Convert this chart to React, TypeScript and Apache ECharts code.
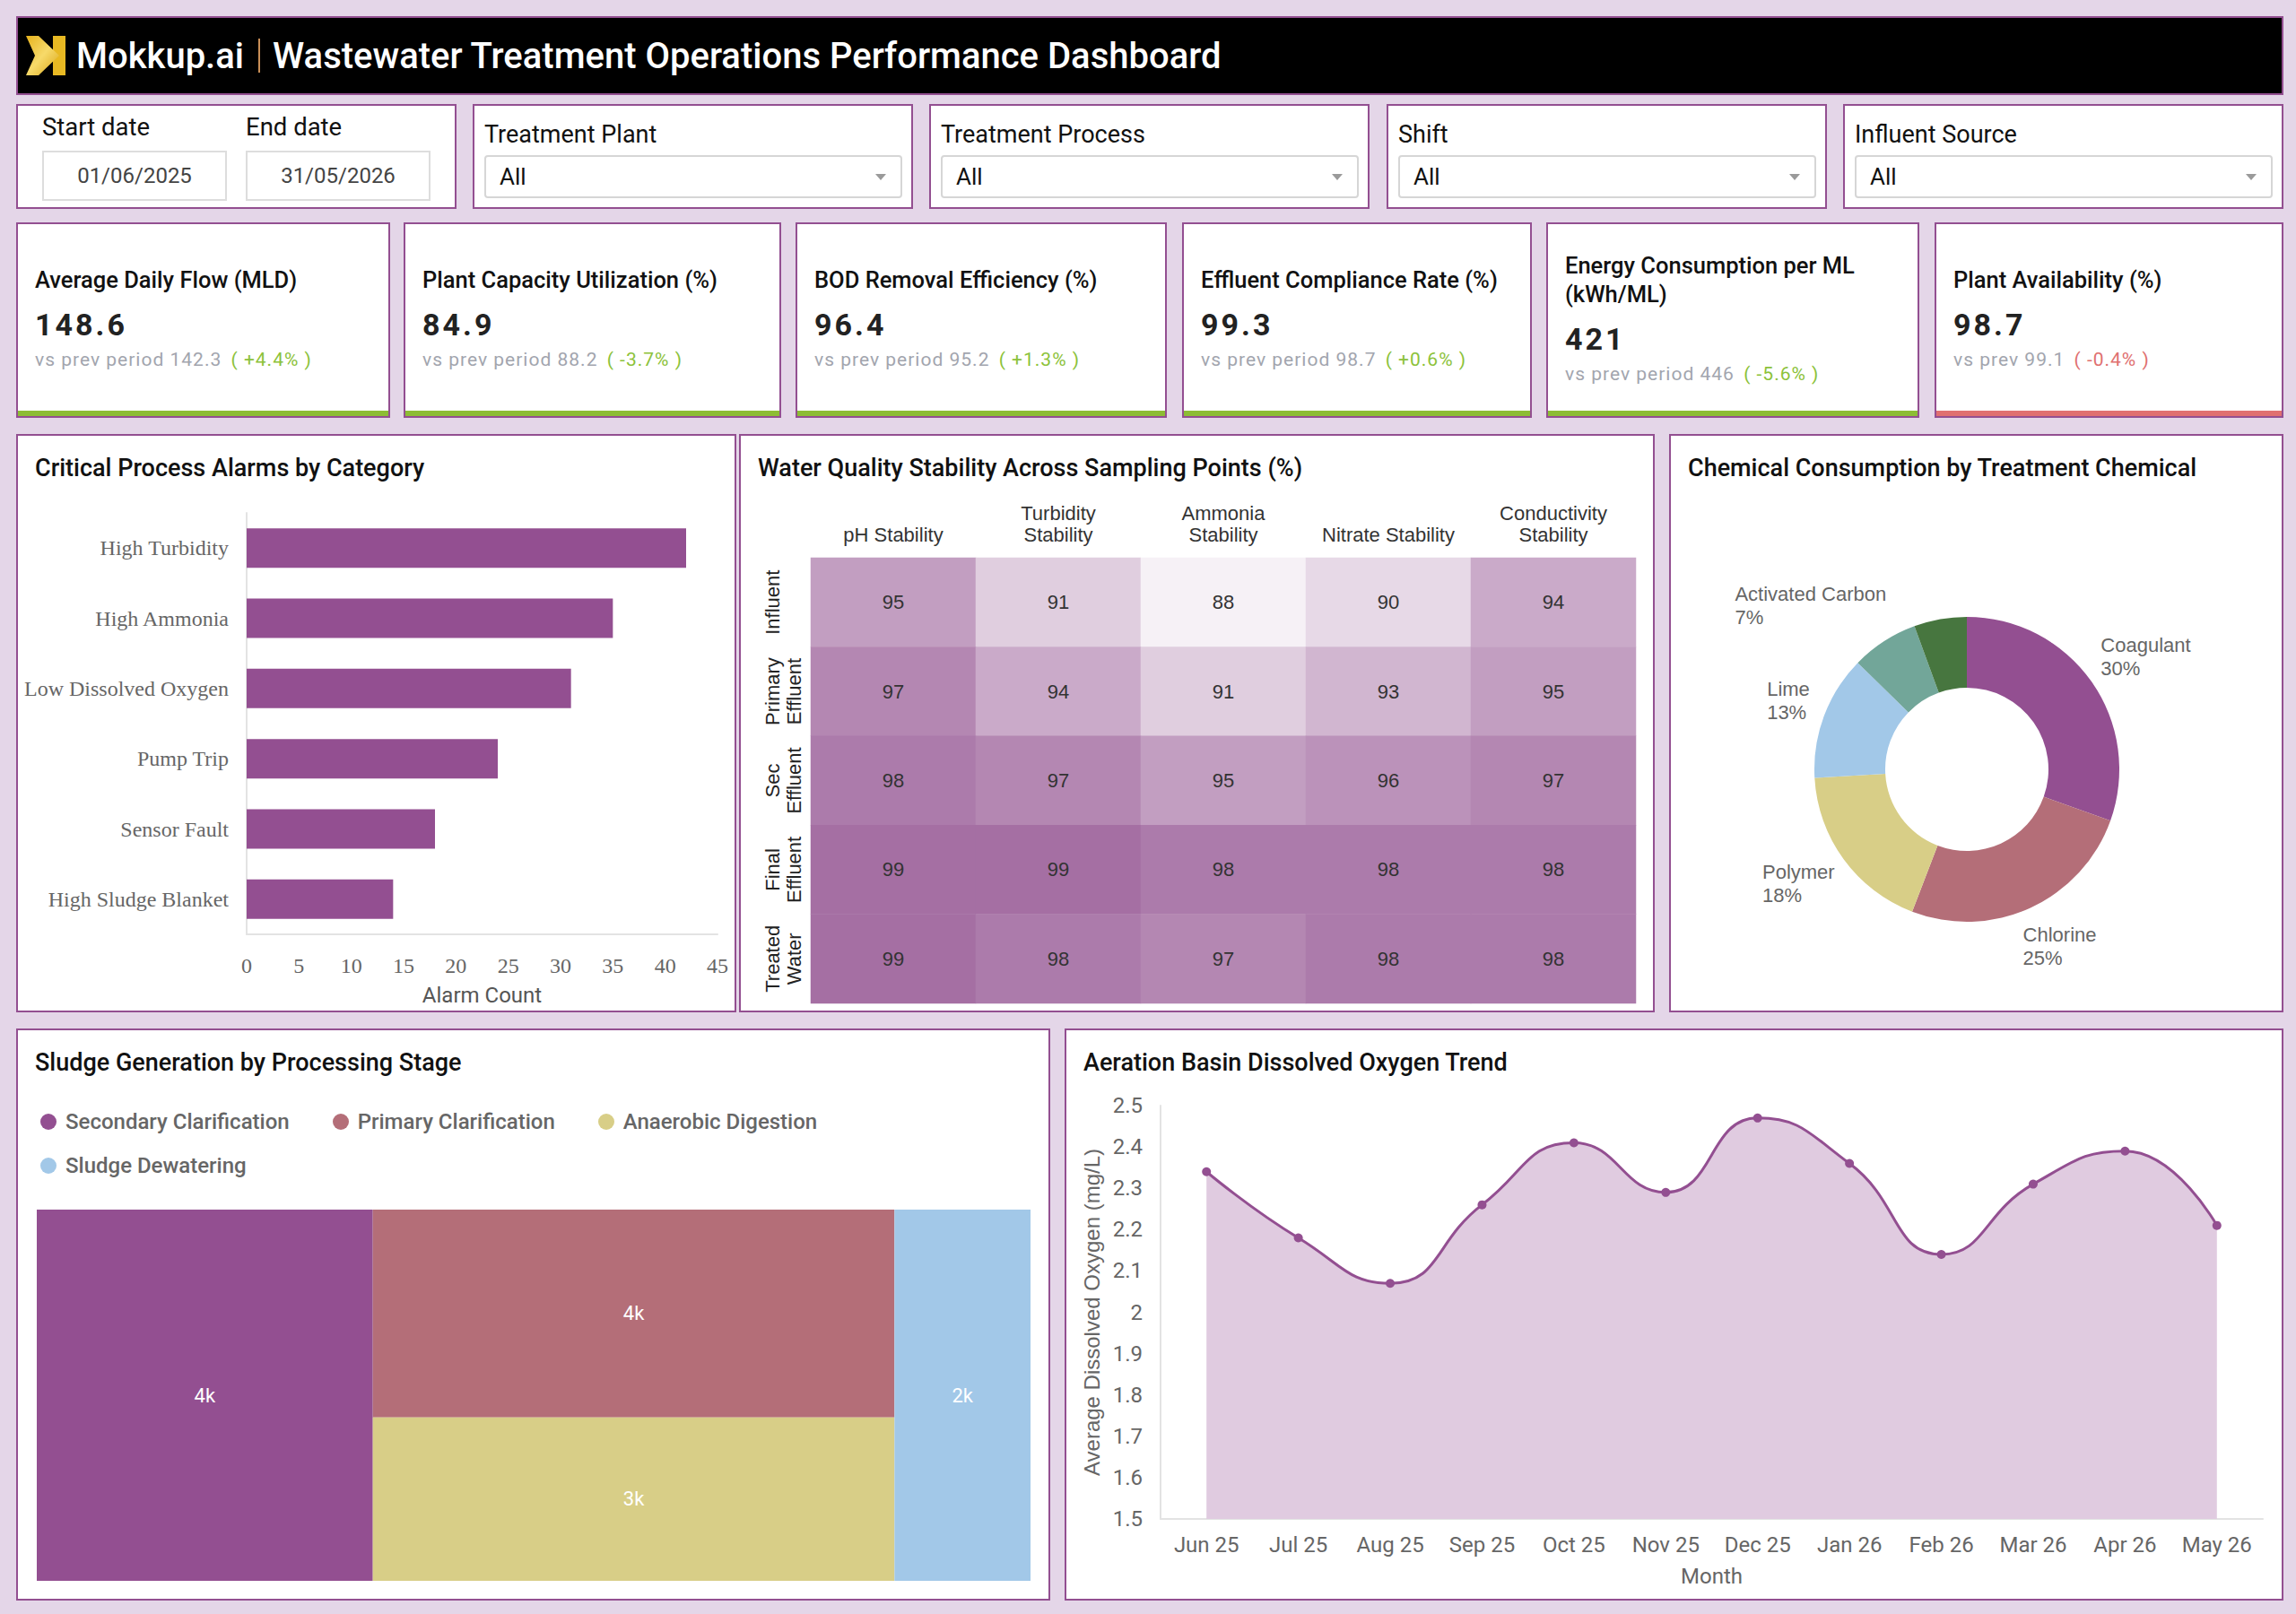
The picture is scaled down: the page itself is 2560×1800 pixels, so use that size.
import React, { useEffect, useRef } from "react";
import * as echarts from "echarts";

// ---------- DATA ----------
const brandName = "Mokkup.ai";
const dashboardTitle = "Wastewater Treatment Operations Performance Dashboard";

const startDateLabel = "Start date";
const endDateLabel = "End date";
const startDate = "01/06/2025";
const endDate = "31/05/2026";
const filterLabels = ["Treatment Plant", "Treatment Process", "Shift", "Influent Source"];
const filterValues = ["All", "All", "All", "All"];

const kpiTitles = [
  "Average Daily Flow (MLD)",
  "Plant Capacity Utilization (%)",
  "BOD Removal Efficiency (%)",
  "Effluent Compliance Rate (%)",
  "Energy Consumption per ML (kWh/ML)",
  "Plant Availability (%)",
];
const kpiValues = ["148.6", "84.9", "96.4", "99.3", "421", "98.7"];
const kpiPrevLabels = ["vs prev period", "vs prev period", "vs prev period", "vs prev period", "vs prev period", "vs prev"];
const kpiPrevValues = ["142.3", "88.2", "95.2", "98.7", "446", "99.1"];
const kpiDeltas = ["+4.4%", "-3.7%", "+1.3%", "+0.6%", "-5.6%", "-0.4%"];
const kpiFavourable = [true, true, true, true, true, false];

const alarmCategories = ["High Turbidity", "High Ammonia", "Low Dissolved Oxygen", "Pump Trip", "Sensor Fault", "High Sludge Blanket"];
const alarmCounts = [42, 35, 31, 24, 18, 14];

const qualityParams = ["pH Stability", "Turbidity\nStability", "Ammonia\nStability", "Nitrate Stability", "Conductivity\nStability"];
const samplingPoints = ["Influent", "Primary\nEffluent", "Sec\nEffluent", "Final\nEffluent", "Treated\nWater"];
const influentStability = [95, 91, 88, 90, 94];
const primaryEffluentStability = [97, 94, 91, 93, 95];
const secEffluentStability = [98, 97, 95, 96, 97];
const finalEffluentStability = [99, 99, 98, 98, 98];
const treatedWaterStability = [99, 98, 97, 98, 98];

const chemicalNames = ["Coagulant", "Chlorine", "Polymer", "Lime", "Activated Carbon", "Ozone"];
const chemicalShares = [30, 25, 18, 13, 7, 5.5];

const sludgeStages = ["Secondary Clarification", "Primary Clarification", "Anaerobic Digestion", "Sludge Dewatering"];
const sludgeVolumes = [4200, 3650, 2870, 1700];

const months = ["Jun 25", "Jul 25", "Aug 25", "Sep 25", "Oct 25", "Nov 25", "Dec 25", "Jan 26", "Feb 26", "Mar 26", "Apr 26", "May 26"];
const avgDissolvedOxygen = [2.34, 2.18, 2.07, 2.26, 2.41, 2.29, 2.47, 2.36, 2.14, 2.31, 2.39, 2.21];

// ---------- STYLE ----------
const PURPLE = "#934F91";
const BG = "#E4D6E8";
const GREEN = "#8DBD34";
const GREEN_TEXT = "#8CC23A";
const RED = "#E07070";
const chemicalColors = ["#934F91", "#B46E78", "#D8CE87", "#A2C8E8", "#72A699", "#47763F"];
const sludgeColors = ["#934F91", "#B46E78", "#D8CE87", "#A2C8E8"];
const SANS = "Liberation Sans";
const SERIF = "Liberation Serif";

function EChart({ option, width, height }: { option: any; width: number; height: number }) {
  const ref = useRef<HTMLDivElement>(null);
  useEffect(() => {
    const chart = echarts.init(ref.current as HTMLDivElement, undefined, { renderer: "svg" });
    chart.setOption(option);
    return () => chart.dispose();
  }, []);
  return <div ref={ref} style={{ position: "absolute", left: 0, top: 0, width, height }} />;
}

function Box({ left, top, width, height, children, bg = "#fff" }: any) {
  return (
    <div
      style={{
        position: "absolute",
        left,
        top,
        width,
        height,
        boxSizing: "border-box",
        border: `2px solid ${PURPLE}`,
        background: bg,
        overflow: "hidden",
      }}
    >
      {children}
    </div>
  );
}

function PanelTitle({ text }: { text: string }) {
  return (
    <div
      style={{
        position: "absolute",
        left: 19,
        top: 20,
        fontSize: 27,
        lineHeight: "32px",
        fontWeight: 500,
        color: "#111",
        zIndex: 2,
        whiteSpace: "nowrap",
      }}
    >
      {text}
    </div>
  );
}

function Logo() {
  return (
    <svg width="44" height="44" viewBox="0 0 44 44">
      <defs>
        <linearGradient id="gold" x1="0" y1="0" x2="1" y2="1">
          <stop offset="0" stopColor="#E6B21C" />
          <stop offset="0.5" stopColor="#F7DA6A" />
          <stop offset="1" stopColor="#D9A514" />
        </linearGradient>
      </defs>
      <rect x="30" y="0" width="14" height="44" fill="#E8B923" />
      <polygon points="0,0 14,0 37,22 14,44 0,44 10,22" fill="url(#gold)" />
    </svg>
  );
}

const kpiBoxes = [
  [18, 417],
  [450, 421],
  [887, 414],
  [1318, 390],
  [1724, 416],
  [2157, 389],
];
const filterLefts = [527, 1036, 1546, 2055];

export default function App() {
  const alarmOption = {
    animation: false,
    grid: { left: 255, right: 19, top: 86, bottom: 85 },
    xAxis: {
      type: "value",
      min: 0,
      max: 45,
      interval: 5,
      name: "Alarm Count",
      nameLocation: "middle",
      nameGap: 56,
      nameTextStyle: { fontFamily: "Roboto", fontSize: 24, color: "#555" },
      axisLine: { show: true, lineStyle: { color: "#E3E3E3", width: 2 } },
      axisTick: { show: false },
      splitLine: { show: false },
      axisLabel: { fontFamily: SERIF, fontSize: 24, color: "#666", margin: 23 },
    },
    yAxis: {
      type: "category",
      data: alarmCategories,
      inverse: true,
      axisLine: { show: true, lineStyle: { color: "#E3E3E3", width: 2 } },
      axisTick: { show: false },
      axisLabel: { fontFamily: SERIF, fontSize: 24, color: "#666", margin: 20 },
    },
    series: [{ type: "bar", data: alarmCounts, barWidth: 44, itemStyle: { color: PURPLE } }],
  };

  const stabilityRows = [
    influentStability,
    primaryEffluentStability,
    secEffluentStability,
    finalEffluentStability,
    treatedWaterStability,
  ];
  const heatData: number[][] = [];
  stabilityRows.forEach((row, y) => row.forEach((v, x) => heatData.push([x, y, v])));
  const heatOption = {
    animation: false,
    grid: { left: 78, right: 19, top: 136, bottom: 8 },
    xAxis: {
      type: "category",
      position: "top",
      data: qualityParams,
      axisLine: { show: false },
      axisTick: { show: false },
      splitArea: { show: false },
      axisLabel: { interval: 0, fontFamily: SANS, fontSize: 22, lineHeight: 24, color: "#333", margin: 14 },
    },
    yAxis: {
      type: "category",
      inverse: true,
      data: samplingPoints,
      axisLine: { show: false },
      axisTick: { show: false },
      axisLabel: {
        interval: 0,
        rotate: 90,
        verticalAlign: "top",
        margin: 55,
        fontFamily: SANS,
        fontSize: 22,
        lineHeight: 24,
        color: "#222",
      },
    },
    visualMap: { show: false, min: 88, max: 99, inRange: { color: ["#F6F1F6", "#A56FA3"] } },
    series: [
      {
        type: "heatmap",
        data: heatData,
        label: { show: true, fontFamily: SANS, fontSize: 22, color: "#333" },
      },
    ],
  };

  const pieOption = {
    animation: false,
    series: [
      {
        type: "pie",
        center: [330, 372],
        radius: [91, 170],
        startAngle: 90,
        avoidLabelOverlap: true,
        data: chemicalNames.map((n, i) => ({
          name: n,
          value: chemicalShares[i],
          itemStyle: { color: chemicalColors[i] },
          label: i === chemicalNames.length - 1 ? { show: false } : undefined,
        })),
        label: {
          show: true,
          position: "outside",
          formatter: (p: any) => `{n|${p.name}}\n{n|${Math.round(p.percent)}%}`,
          fontFamily: SANS,
          fontSize: 22,
          lineHeight: 26,
          color: "#666",
          rich: { n: { align: "left", fontFamily: SANS, fontSize: 22, lineHeight: 26, color: "#666" } },
        },
        labelLine: { show: false, length: 47, length2: -33 },
      },
    ],
  };

  const treemapOption = {
    animation: false,
    series: [
      {
        type: "treemap",
        left: 21,
        top: 200,
        width: 1108,
        height: 414,
        roam: false,
        nodeClick: false,
        breadcrumb: { show: false },
        data: sludgeStages.map((n, i) => ({ name: n, value: sludgeVolumes[i], itemStyle: { color: sludgeColors[i] } })),
        label: {
          show: true,
          position: "inside",
          formatter: (p: any) => `${Math.round(p.value / 1000)}k`,
          fontFamily: "Roboto",
          fontSize: 22,
          color: "#fff",
        },
        itemStyle: { borderWidth: 0, gapWidth: 0 },
        levels: [{ itemStyle: { borderWidth: 0, gapWidth: 0 } }],
      },
    ],
  };

  const lineOption = {
    animation: false,
    grid: { left: 105, right: 21, top: 84, bottom: 89 },
    xAxis: {
      type: "category",
      data: months,
      boundaryGap: true,
      name: "Month",
      nameLocation: "middle",
      nameGap: 52,
      nameTextStyle: { fontFamily: "Roboto", fontSize: 24, color: "#666" },
      axisLine: { show: true, lineStyle: { color: "#E3E3E3", width: 2 } },
      axisTick: { show: false },
      axisLabel: { interval: 0, fontFamily: "Roboto", fontSize: 24, color: "#666", margin: 17 },
    },
    yAxis: {
      type: "value",
      min: 1.5,
      max: 2.5,
      interval: 0.1,
      name: "Average Dissolved Oxygen (mg/L)",
      nameLocation: "middle",
      nameGap: 62,
      nameTextStyle: { fontFamily: SANS, fontSize: 24, color: "#666" },
      axisLine: { show: true, lineStyle: { color: "#E3E3E3", width: 2 } },
      axisTick: { show: false },
      splitLine: { show: false },
      axisLabel: { fontFamily: "Roboto", fontSize: 24, color: "#666", margin: 20 },
    },
    series: [
      {
        type: "line",
        data: avgDissolvedOxygen,
        smooth: true,
        symbol: "circle",
        symbolSize: 10,
        lineStyle: { color: PURPLE, width: 3 },
        itemStyle: { color: PURPLE },
        areaStyle: { color: "#E0CBE0", opacity: 1 },
      },
    ],
  };

  return (
    <div
      style={{
        position: "absolute",
        left: 0,
        top: 0,
        width: 2560,
        height: 1800,
        background: BG,
        fontFamily: "Roboto, sans-serif",
        color: "#111",
        overflow: "hidden",
      }}
    >
      {/* Header */}
      <Box left={18} top={18} width={2528} height={88} bg="#000">
        <div style={{ display: "flex", alignItems: "center", height: "100%", paddingLeft: 9 }}>
          <Logo />
          <span style={{ marginLeft: 12, color: "#fff", fontSize: 40, fontWeight: 500 }}>{brandName}</span>
          <span style={{ marginLeft: 16, width: 2, height: 38, background: "#C98E56" }} />
          <span style={{ marginLeft: 14, color: "#fff", fontSize: 40, fontWeight: 500 }}>{dashboardTitle}</span>
        </div>
      </Box>

      {/* Date filter */}
      <Box left={18} top={116} width={491} height={117}>
        {[
          [startDateLabel, startDate, 27],
          [endDateLabel, endDate, 254],
        ].map(([label, val, x]: any) => (
          <React.Fragment key={label}>
            <div style={{ position: "absolute", left: x, top: 8, fontSize: 27.5, lineHeight: "32px", color: "#111" }}>{label}</div>
            <div
              style={{
                position: "absolute",
                left: x,
                top: 50,
                width: 206,
                height: 56,
                boxSizing: "border-box",
                border: "2px solid #DDDDDD",
                display: "flex",
                alignItems: "center",
                justifyContent: "center",
                fontSize: 24,
                color: "#444",
              }}
            >
              {val}
            </div>
          </React.Fragment>
        ))}
      </Box>

      {/* Dropdown filters */}
      {filterLabels.map((label, i) => (
        <Box key={label} left={filterLefts[i]} top={116} width={491} height={117}>
          <div style={{ position: "absolute", left: 11, top: 16, fontSize: 27, lineHeight: "32px", color: "#111" }}>{label}</div>
          <div
            style={{
              position: "absolute",
              left: 11,
              top: 55,
              width: 466,
              height: 48,
              boxSizing: "border-box",
              border: "2px solid #D6D6D6",
              borderRadius: 4,
              display: "flex",
              alignItems: "center",
              paddingLeft: 15,
              fontSize: 26,
              color: "#111",
            }}
          >
            {filterValues[i]}
            <span
              style={{
                position: "absolute",
                right: 16,
                top: 19,
                width: 0,
                height: 0,
                borderLeft: "6px solid transparent",
                borderRight: "6px solid transparent",
                borderTop: "7px solid #9A9A9A",
              }}
            />
          </div>
        </Box>
      ))}

      {/* KPI cards */}
      {kpiTitles.map((t, i) => (
        <Box key={t} left={kpiBoxes[i][0]} top={248} width={kpiBoxes[i][1]} height={218}>
          <div
            style={{
              position: "absolute",
              left: 0,
              right: 0,
              top: 0,
              bottom: 6,
              display: "flex",
              flexDirection: "column",
              justifyContent: "center",
              padding: "0 14px 0 19px",
            }}
          >
            <div style={{ fontSize: 25.5, lineHeight: "32px", fontWeight: 500, color: "#111" }}>{t}</div>
            <div style={{ marginTop: 14, fontSize: 34, lineHeight: "40px", fontWeight: 700, color: "#222", letterSpacing: 3 }}>
              {kpiValues[i]}
            </div>
            <div style={{ marginTop: 7, fontSize: 21, lineHeight: "24px", color: "#A2A5AE", letterSpacing: 1, whiteSpace: "nowrap" }}>
              {kpiPrevLabels[i]} {kpiPrevValues[i]}{" "}
              <span style={{ color: kpiFavourable[i] ? GREEN_TEXT : RED, marginLeft: 4 }}>( {kpiDeltas[i]} )</span>
            </div>
          </div>
          <div style={{ position: "absolute", left: 0, right: 0, bottom: 0, height: 6, background: kpiFavourable[i] ? GREEN : RED }} />
        </Box>
      ))}

      {/* Alarms */}
      <Box left={18} top={484} width={803} height={645}>
        <EChart option={alarmOption} width={799} height={641} />
        <PanelTitle text="Critical Process Alarms by Category" />
      </Box>

      {/* Heatmap */}
      <Box left={824} top={484} width={1021} height={645}>
        <EChart option={heatOption} width={1017} height={641} />
        <PanelTitle text="Water Quality Stability Across Sampling Points (%)" />
      </Box>

      {/* Pie */}
      <Box left={1861} top={484} width={685} height={645}>
        <EChart option={pieOption} width={681} height={641} />
        <PanelTitle text="Chemical Consumption by Treatment Chemical" />
      </Box>

      {/* Treemap */}
      <Box left={18} top={1147} width={1153} height={638}>
        <EChart option={treemapOption} width={1149} height={634} />
        <PanelTitle text="Sludge Generation by Processing Stage" />
        <div
          style={{
            position: "absolute",
            left: 25,
            top: 86,
            width: 960,
            display: "flex",
            flexWrap: "wrap",
            columnGap: 48,
            rowGap: 17,
            zIndex: 2,
          }}
        >
          {sludgeStages.map((s, i) => (
            <div key={s} style={{ display: "flex", alignItems: "center", height: 32 }}>
              <span style={{ width: 18, height: 18, borderRadius: 9, background: sludgeColors[i], display: "inline-block" }} />
              <span style={{ marginLeft: 10, fontSize: 24, fontWeight: 500, color: "#666" }}>{s}</span>
            </div>
          ))}
        </div>
      </Box>

      {/* Line */}
      <Box left={1187} top={1147} width={1359} height={638}>
        <EChart option={lineOption} width={1355} height={634} />
        <PanelTitle text="Aeration Basin Dissolved Oxygen Trend" />
      </Box>
    </div>
  );
}
